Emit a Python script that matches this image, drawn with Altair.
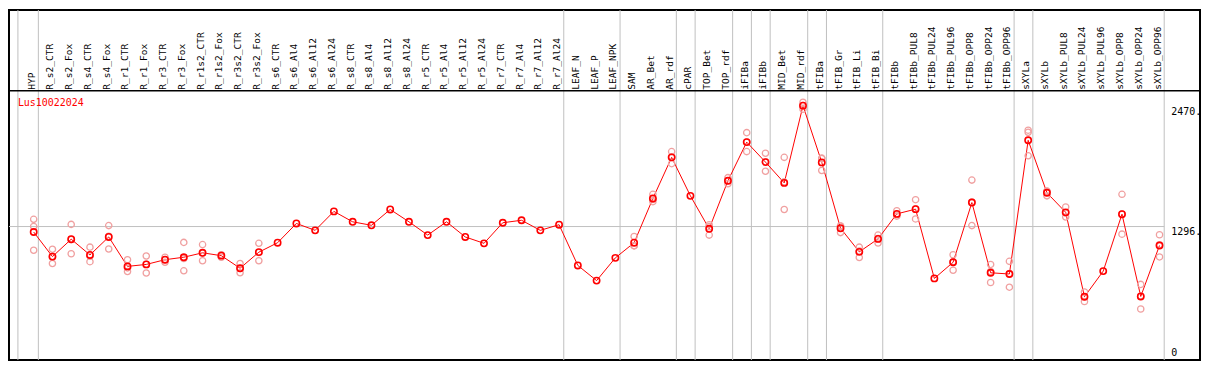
import altair as alt
import pandas as pd

# ---------------- data ----------------
gene = "Lus10022024"

categories = [
    "HYP", "R_s2_CTR", "R_s2_Fox", "R_s4_CTR", "R_s4_Fox", "R_r1_CTR", "R_r1_Fox",
    "R_r3_CTR", "R_r3_Fox", "R_r1s2_CTR", "R_r1s2_Fox", "R_r3s2_CTR", "R_r3s2_Fox",
    "R_s6_CTR", "R_s6_Al4", "R_s6_Al12", "R_s6_Al24", "R_s8_CTR", "R_s8_Al4",
    "R_s8_Al12", "R_s8_Al24", "R_r5_CTR", "R_r5_Al4", "R_r5_Al12", "R_r5_Al24",
    "R_r7_CTR", "R_r7_Al4", "R_r7_Al12", "R_r7_Al24", "LEAF_N", "LEAF_P", "LEAF_NPK",
    "SAM", "AR_Bet", "AR_rdf", "cPAR", "TOP_Bet", "TOP_rdf", "iFIBa", "iFIBb",
    "MID_Bet", "MID_rdf", "tFIBa", "tFIB_Gr", "tFIB_Li", "tFIB_Bi", "tFIBb",
    "tFIBb_PUL8", "tFIBb_PUL24", "tFIBb_PUL96", "tFIBb_OPP8", "tFIBb_OPP24",
    "tFIBb_OPP96", "sXYLa", "sXYLb", "sXYLb_PUL8", "sXYLb_PUL24", "sXYLb_PUL96",
    "sXYLb_OPP8", "sXYLb_OPP24", "sXYLb_OPP96",
]

means = [
    1243, 1004, 1173, 1020, 1195, 909, 928, 974, 998, 1041, 1013, 891, 1047,
    1139, 1326, 1259, 1443, 1342, 1308, 1462, 1342, 1213, 1342, 1195, 1133,
    1333, 1357, 1259, 1314, 918, 771, 992,
    1139, 1569, 1968, 1594, 1274, 1741, 2116, 1922, 1720, 2470, 1919, 1280,
    1050, 1176, 1419, 1465, 792, 949, 1529, 847, 835, 2134, 1624, 1434, 614,
    863, 1416, 617, 1112,
]

N = None
rep_a = [
    1366, 1075, 1317, 1096, 1305, 974, 1010, 998, 1142, 1121, 1022, 937, 1133,
    N, N, N, N, N, N, N, N, N, N, N, N, N, N, N, N, N, N, N,
    1200, 1609, 2024, N, 1314, 1771, 2208, 2008, 1968, 2503, 1956, 1302,
    1096, 1213, 1449, 1557, N, 1022, 1747, 928, 958, 2232, 1640, 1486, 660,
    N, 1609, 734, 1216,
]
rep_b = [
    1296, 1000, 1170, 1009, 1202, 894, 929, 974, 986, 1038, 1019, 889, 1044,
    N, N, N, N, N, N, N, N, N, N, N, N, N, N, N, N, N, N, N,
    1110, 1560, 1973, N, 1295, 1741, 2116, 1925, 1730, 2472, 1961, 1301,
    1059, 1179, 1411, 1468, N, 953, 1535, 860, 840, 2211, 1638, 1428, 614,
    N, 1417, 622, 1119,
]
rep_c = [
    1066, 937, 1032, 955, 1078, 859, 845, 949, 866, 964, 998, 847, 964,
    N, N, N, N, N, N, N, N, N, N, N, N, N, N, N, N, N, N, N,
    1108, 1538, 1907, N, 1213, 1711, 2024, 1833, 1462, 2435, 1840, 1237,
    995, 1136, 1397, 1370, N, 872, 1305, 753, 707, 1983, 1594, 1388, 568,
    N, 1222, 495, 1001,
]

# last category of each block (a grey separator follows it)
group_ends = ["HYP", "R_r7_Al24", "LEAF_NPK", "AR_rdf", "cPAR", "TOP_rdf", "iFIBa",
              "iFIBb", "MID_rdf", "tFIBa", "tFIB_Bi", "tFIBb_OPP96", "sXYLa",
              "sXYLb_OPP96"]

tick_values = [2470, 1296]
tick_labels = ["2470.", "1296."]
zero_value = [0]
zero_label = ["0"]
ref_line_value = [1296]

# ---------------- layout ----------------
W, H = 1198, 352
REF_W, REF_H = 1206.0, 369.0
sx, sy = W / REF_W, H / REF_H


def px(xr):
    return (xr - 1) * sx


def py(yr):
    return yr * sy


STEP, X0 = 19.0, 26.0
x_dom = [1 + (1 - X0) / STEP, 1 + (1207 - X0) / STEP]
y_dom = [0, REF_H * 9.2115]
xs = alt.Scale(domain=x_dom, zero=False, nice=False)
ys = alt.Scale(domain=y_dom, zero=False, nice=False)

FONT = "DejaVu Sans Mono"
FS = 9.6

idx = list(range(1, len(categories) + 1))
df = pd.DataFrame({"idx": idx, "cat": categories, "mean": means})

rows = []
for arr in (rep_a, rep_b, rep_c):
    for i, v in zip(idx, arr):
        if v is not None:
            rows.append({"idx": i, "val": v})
reps = pd.DataFrame(rows)

sep_pos = [0.16] + [categories.index(c) + 1 + 0.25 for c in group_ends]
seps = pd.DataFrame({"x": sep_pos})
right_edge = categories.index("sXYLb_OPP96") + 1 + 0.25

X = lambda f: alt.X(f, type="quantitative", scale=xs, axis=None)
Y = lambda f: alt.Y(f, type="quantitative", scale=ys, axis=None)

vlines = alt.Chart(seps).mark_rule(color="#c0c0c0", strokeWidth=1).encode(
    x=X("x"), y=alt.value(0), y2=alt.value(H)
)

hline = alt.Chart(pd.DataFrame({"v": ref_line_value, "x1": [x_dom[0]], "x2": [right_edge]})).mark_rule(
    color="#c0c0c0", strokeWidth=1
).encode(x=X("x1"), x2="x2", y=Y("v"))

header = alt.Chart(pd.DataFrame({"a": [0]})).mark_rule(color="black", strokeWidth=1.5).encode(
    x=alt.value(0), x2=alt.value(W), y=alt.value(py(85))
)

labels = alt.Chart(df).mark_text(
    angle=270, align="left", baseline="alphabetic", dy=1,
    font=FONT, fontSize=FS, color="black"
).encode(x=X("idx"), y=alt.value(py(84)), text="cat:N")

line = alt.Chart(df).mark_line(color="#ff0000", strokeWidth=1).encode(
    x=X("idx"), y=Y("mean"), order="idx:Q"
)

rep_pts = alt.Chart(reps).mark_point(
    shape="circle", filled=False, size=40, strokeWidth=1.3, color="#f0a0a0", opacity=1
).encode(x=X("idx"), y=Y("val"))

mean_pts = alt.Chart(df).mark_point(
    shape="circle", filled=False, size=40, strokeWidth=1.6, color="#ff0000", opacity=1
).encode(x=X("idx"), y=Y("mean"))

title = alt.Chart(pd.DataFrame({"t": [gene]})).mark_text(
    align="left", baseline="alphabetic", font=FONT, fontSize=FS + 0.4, color="#ff0000"
).encode(x=alt.value(px(10)), y=alt.value(py(101)), text="t:N")

ticks = alt.Chart(pd.DataFrame({"v": tick_values, "t": tick_labels})).mark_text(
    align="left", baseline="top", dy=1, font=FONT, fontSize=FS + 0.4, color="black"
).encode(x=alt.value(px(1178)), y=Y("v"), text="t:N")

zero = alt.Chart(pd.DataFrame({"v": zero_value, "t": zero_label})).mark_text(
    align="left", baseline="bottom", dy=-2, font=FONT, fontSize=FS + 0.4, color="black"
).encode(x=alt.value(px(1178)), y=Y("v"), text="t:N")

chart = alt.layer(
    vlines, hline, header, labels, line, rep_pts, mean_pts, title, ticks, zero
).properties(
    width=W, height=H,
    padding={"left": 1, "top": 1, "right": 1, "bottom": 1},
    autosize=alt.AutoSizeParams(type="none"),
).configure_view(stroke="black", strokeWidth=2)

chart.save("out.html", embed_options={"renderer": "svg", "actions": False})
